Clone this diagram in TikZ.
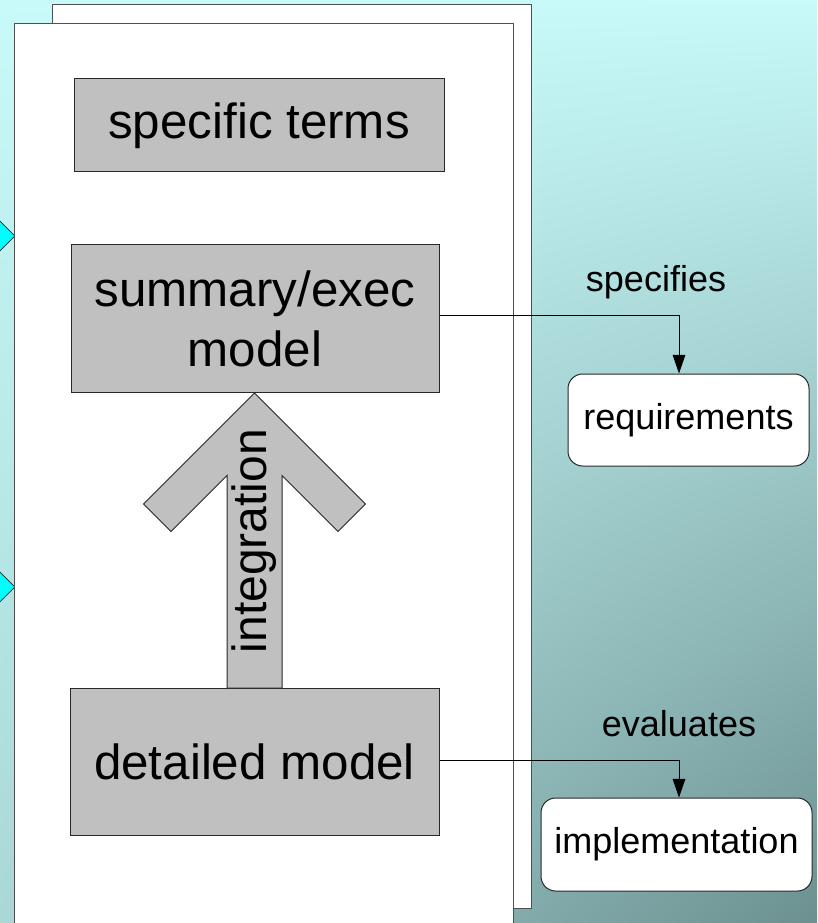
\documentclass[tikz,border=0pt]{standalone}
\usepackage{fontspec}
\setmainfont{Liberation Sans}
\usetikzlibrary{arrows.meta,shapes.geometric,shadings}

\definecolor{bgtop}{RGB}{200,250,250}
\definecolor{bgll}{RGB}{170,216,216}
\definecolor{bglr}{RGB}{108,144,144}
\definecolor{boxgray}{RGB}{192,192,192}
\definecolor{framegray}{RGB}{80,80,80}
\definecolor{edgec}{RGB}{40,40,40}
\definecolor{markfill}{RGB}{0,255,255}

\begin{document}
\begin{tikzpicture}[x=0.75pt,y=-0.75pt,
  sheet/.style={fill=white,draw=framegray,line width=0.75pt},
  block/.style={rectangle,fill=boxgray,draw=edgec,line width=0.75pt,inner sep=0pt,align=center},
  bigtext/.style={font=\fontsize{37}{45}\selectfont},
  arrowtext/.style={font=\fontsize{36}{43}\selectfont},
  leaf/.style={rectangle,rounded corners=11pt,fill=white,draw=edgec,line width=0.75pt,inner sep=0pt,font=\fontsize{27}{32}\selectfont},
  lbl/.style={font=\fontsize{27}{32}\selectfont,inner sep=0pt},
  link/.style={draw=black,line width=0.75pt,-{Triangle[width=9.5pt,length=14pt]}},
  boxdim/.style 2 args={minimum width=#1*0.75pt,minimum height=#2*0.75pt},
  marker/.style={diamond,fill=markfill,draw=edgec,line width=0.5pt,inner sep=0pt,minimum size=22.5pt}
]
\useasboundingbox (0,0) rectangle (817,923);

% backdrop
\shade[upper left=bgtop,upper right=bgtop,lower left=bgll,lower right=bglr]
  (0,0) rectangle (817,923);

% markers peeking out at the left edge
\node[marker] (mk1) at (0,236) {};
\node[marker] (mk2) at (0,587) {};

% stacked sheets
\draw[sheet] (52,4.5) rectangle (531.5,908);
\draw[sheet] (14,23.5) rectangle (513.5,935);

% model blocks
\node[block,bigtext,boxdim={370}{93}] (terms) at (259,125.5) {specific terms};
\node[block,bigtext,boxdim={368}{147}] (summary) at (255,318.5) {summary/exec\\model};
\node[block,bigtext,boxdim={369}{147}] (detail) at (254.5,761.5) {detailed model};

% integration arrow
\draw[fill=boxgray,draw=edgec,line width=0.75pt]
  (254.5,393) -- (365.5,504) -- (338,531.5) -- (282,475.5) -- (282,688)
  -- (227,688) -- (227,475.5) -- (171,531.5) -- (143.5,504) -- cycle;
\node[arrowtext,rotate=90,inner sep=0pt] (integ) at (254.5,541) {integration};

% targets
\node[leaf,boxdim={241}{92}] (req) at (688.5,420) {requirements};
\node[leaf,boxdim={271}{93}] (impl) at (676.5,844.5) {implementation};

% connectors
\coordinate (drop) at (679,0);
\draw[link] ([yshift=2.5pt]summary.east) -| (drop |- req.north);
\draw[link] ([yshift=1pt]detail.east) -| (drop |- impl.north);

\node[lbl] (spec) at (656,282) {specifies};
\node[lbl] (eval) at (679,724) {evaluates};
\end{tikzpicture}
\end{document}
